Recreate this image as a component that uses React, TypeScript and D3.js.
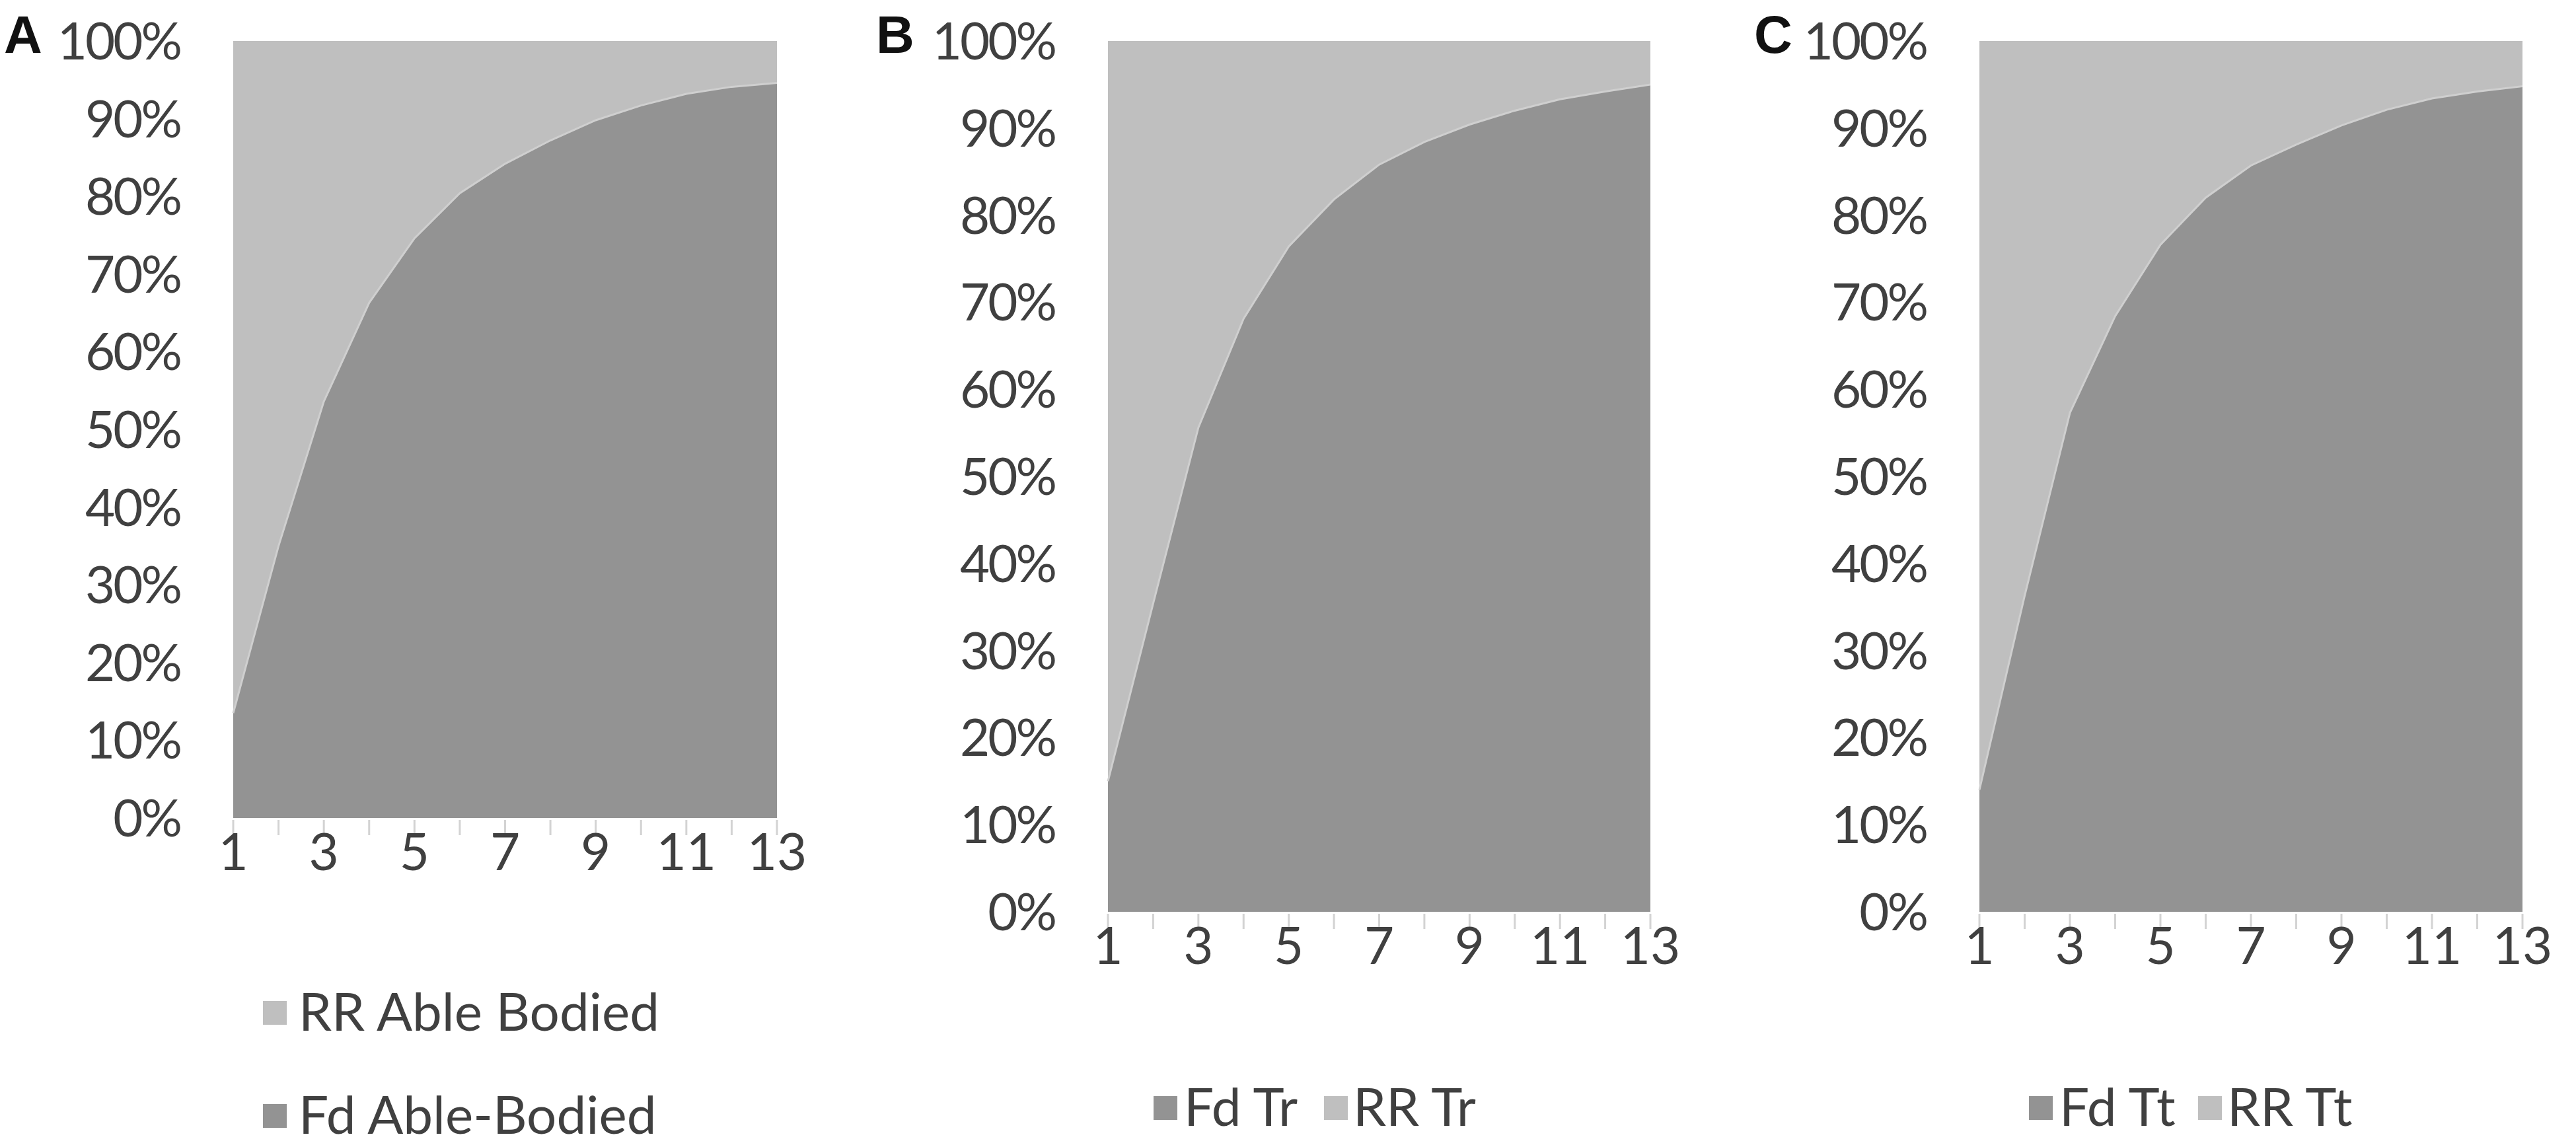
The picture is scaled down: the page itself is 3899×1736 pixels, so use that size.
import React from "react";
import * as d3 from "d3";

const categories = [1, 2, 3, 4, 5, 6, 7, 8, 9, 10, 11, 12, 13];
const xTickLabels = [1, 3, 5, 7, 9, 11, 13];
const yTicks = [0, 10, 20, 30, 40, 50, 60, 70, 80, 90, 100];

const fdAbleBodied = [13.5, 35.0, 53.6, 66.3, 74.6, 80.4, 84.2, 87.2, 89.8, 91.7, 93.2, 94.1, 94.6];
const rrAbleBodied = [86.5, 65.0, 46.4, 33.7, 25.4, 19.6, 15.8, 12.8, 10.2, 8.3, 6.8, 5.9, 5.4];
const fdTr = [15.0, 35.4, 55.6, 68.1, 76.4, 81.8, 85.8, 88.4, 90.4, 92.0, 93.3, 94.2, 95.0];
const rrTr = [85.0, 64.6, 44.4, 31.9, 23.6, 18.2, 14.2, 11.6, 9.6, 8.0, 6.7, 5.8, 5.0];
const fdTt = [14.0, 36.3, 57.3, 68.4, 76.6, 82.0, 85.7, 88.1, 90.3, 92.1, 93.4, 94.2, 94.8];
const rrTt = [86.0, 63.7, 42.7, 31.6, 23.4, 18.0, 14.3, 11.9, 9.7, 7.9, 6.6, 5.8, 5.2];

const FD_COLOR = "#939393";
const RR_COLOR = "#bfbfbf";
const TEXT = "#404040";
const FONT = "Lato, 'Open Sans', sans-serif";

type LegendItem = { label: string; color: string; x: number; tx: number; y: number };

type PanelProps = {
  letter: string;
  letterX: number;
  left: number;
  right: number;
  top: number;
  bottom: number;
  fd: number[];
  rr: number[];
  legend: LegendItem[];
};

function Panel({ letter, letterX, left, right, top, bottom, fd, rr, legend }: PanelProps) {
  const x = d3.scaleLinear().domain([1, 13]).range([left, right]);
  const y = d3.scaleLinear().domain([0, 100]).range([bottom, top]);
  const rows = categories.map((c, i) => ({ cat: c, fd: fd[i], rr: rr[i] }));
  const stack = d3.stack<any>().keys(["fd", "rr"]);
  const series = stack(rows);
  const area = d3
    .area<any>()
    .x((d) => x(d.data.cat))
    .y0((d) => y(d[0]))
    .y1((d) => y(d[1]))
    .curve(d3.curveLinear);
  const boundary = d3
    .line<any>()
    .x((d) => x(d.data.cat))
    .y((d) => y(d[1]));
  const colors = [FD_COLOR, RR_COLOR];
  return (
    <g>
      <text x={letterX} y={80} fontFamily="'Liberation Sans', Arial, sans-serif" fontWeight="bold" fontSize={80} fill="#111">
        {letter}
      </text>
      {series.map((s, i) => (
        <path key={i} d={area(s) || ""} fill={colors[i]} />
      ))}
      <path d={boundary(series[0]) || ""} fill="none" stroke="#cfcfcf" strokeWidth={3} />
      {categories.map((c) => (
        <line key={c} x1={x(c)} x2={x(c)} y1={bottom + 3} y2={bottom + 26} stroke="#d3d3d3" strokeWidth={3} />
      ))}
      {yTicks.map((t) => (
        <text key={t} x={left - 80} y={y(t) + 28} textAnchor="end" fontFamily={FONT} fontSize={78} letterSpacing={-3} fill={TEXT}>
          {t + "%"}
        </text>
      ))}
      {xTickLabels.map((t) => (
        <text key={t} x={x(t)} y={bottom + 79} textAnchor="middle" fontFamily={FONT} fontSize={78} fill={TEXT}>
          {String(t)}
        </text>
      ))}
      {legend.map((l, i) => (
        <g key={i}>
          <rect x={l.x} y={l.y - 45} width={36} height={36} fill={l.color} />
          <text x={l.tx} y={l.y} fontFamily={FONT} fontSize={80} fill={TEXT}>
            {l.label}
          </text>
        </g>
      ))}
    </g>
  );
}

export default function App() {
  return (
    <svg
      width={3899}
      height={1736}
      style={{ position: "absolute", left: 0, top: 0, background: "#fff" }}
    >
      <rect x={0} y={0} width={3899} height={1736} fill="#fff" />
      <Panel
        letter="A"
        letterX={6}
        left={353}
        right={1176}
        top={62}
        bottom={1238}
        fd={fdAbleBodied}
        rr={rrAbleBodied}
        legend={[
          { label: "RR Able Bodied", color: RR_COLOR, x: 398, tx: 452, y: 1560 },
          { label: "Fd Able-Bodied", color: FD_COLOR, x: 398, tx: 452, y: 1716 },
        ]}
      />
      <Panel
        letter="B"
        letterX={1326}
        left={1677}
        right={2498}
        top={62}
        bottom={1380}
        fd={fdTr}
        rr={rrTr}
        legend={[
          { label: "Fd Tr", color: FD_COLOR, x: 1746, tx: 1792, y: 1704 },
          { label: "RR Tr", color: RR_COLOR, x: 2004, tx: 2048, y: 1704 },
        ]}
      />
      <Panel
        letter="C"
        letterX={2655}
        left={2996}
        right={3818}
        top={62}
        bottom={1380}
        fd={fdTt}
        rr={rrTt}
        legend={[
          { label: "Fd Tt", color: FD_COLOR, x: 3071, tx: 3117, y: 1704 },
          { label: "RR Tt", color: RR_COLOR, x: 3327, tx: 3371, y: 1704 },
        ]}
      />
    </svg>
  );
}
